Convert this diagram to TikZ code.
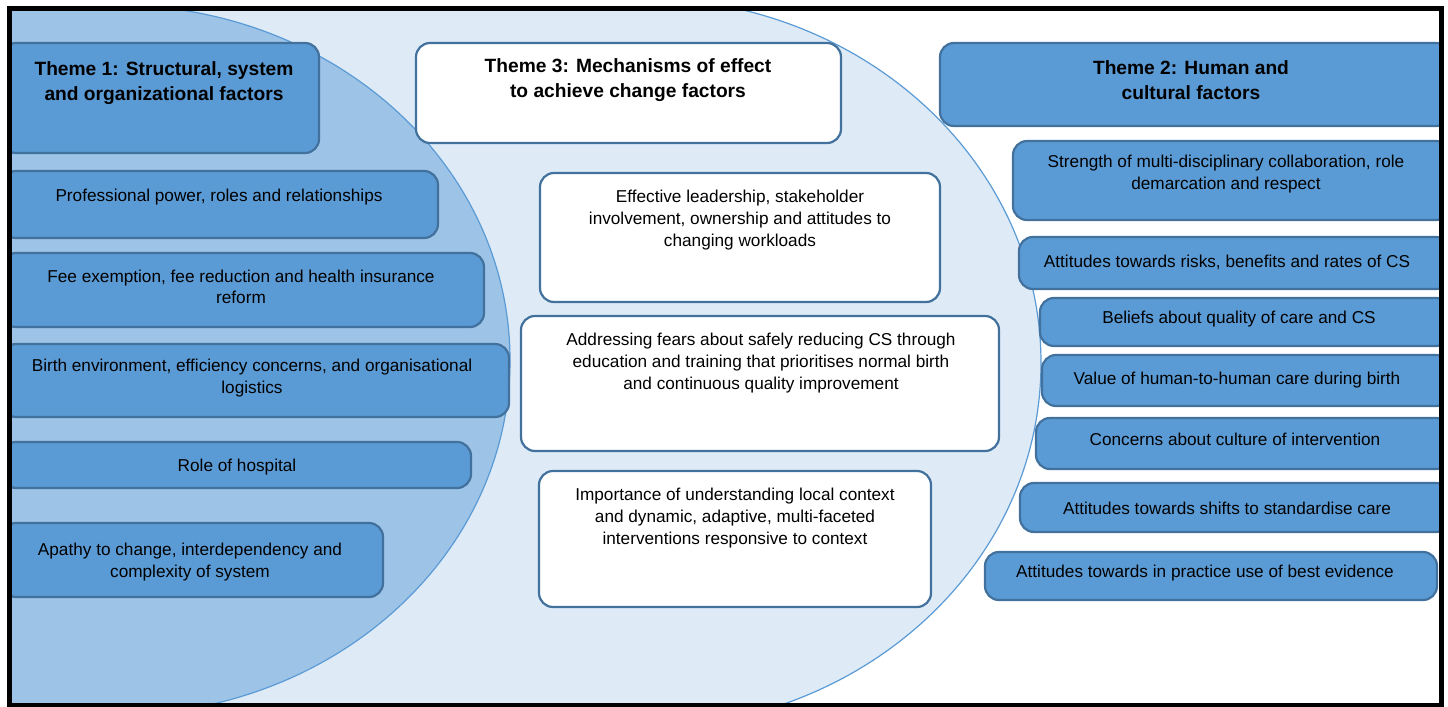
\documentclass[tikz,border=0pt]{standalone}
\usepackage{fontspec}
\setmainfont{Liberation Sans}
\usepackage{xcolor}
\definecolor{boxblue}{HTML}{5B9BD5}
\definecolor{boxedge}{HTML}{41719C}
\definecolor{setinner}{HTML}{9DC3E6}
\definecolor{setouter}{HTML}{DEEBF7}
\begin{document}
\begin{tikzpicture}[x=0.5pt, y=-0.5pt,
    bluebox/.style={draw=boxedge, line width=1.1pt, fill=boxblue, rounded corners=7pt},
    whitebox/.style={draw=boxedge, line width=1.1pt, fill=white, rounded corners=7pt},
    setline/.style={draw=boxblue, line width=0.6pt},
    txt/.style={align=center, inner sep=0pt, font=\fontsize{8.6}{10.8}\selectfont},
    head/.style={align=center, inner sep=0pt, font=\fontsize{9.6}{12.5}\selectfont\bfseries}]
    \useasboundingbox (0,0) rectangle (1448,707);

    \begin{scope}
    \clip (9,8) rectangle (1442,706);

    % Outer set (theme 3)
    \draw[setline, fill=setouter] (641,-2) arc[start angle=90, end angle=-90, x radius=200pt, y radius=182.5pt] -- (-30,728) -- (-30,-2) -- cycle;
    % Inner set (theme 1)
    \draw[setline, fill=setinner] (115,5) arc[start angle=90, end angle=-90, x radius=197.5pt, y radius=177.5pt] -- (-30,715) -- (-30,5) -- cycle;

    % Theme 1 boxes
    \draw[bluebox] (2,43) rectangle (319,153);
    \node[head] (theme1) at (164,83) {Theme 1: Structural, system\\and organizational factors};
    \draw[bluebox] (2,171) rectangle (438,238);
    \node[txt] (power) at (219,197) {Professional power, roles and relationships};
    \draw[bluebox] (2,253) rectangle (484,327);
    \node[txt] (fee) at (241,287) {Fee exemption, fee reduction and health insurance\\reform};
    \draw[bluebox] (2,344) rectangle (509,417);
    \node[txt] (birth) at (252,378) {Birth environment, efficiency concerns, and organisational\\logistics};
    \draw[bluebox] (2,442) rectangle (471,488);
    \node[txt] (hospital) at (237,467) {Role of hospital};
    \draw[bluebox] (2,523) rectangle (383,597);
    \node[txt] (apathy) at (190,562) {Apathy to change, interdependency and\\complexity of system};

    % Theme 3 boxes
    \draw[whitebox] (416,43) rectangle (841,143);
    \node[head] (theme3) at (628,80) {Theme 3: Mechanisms of effect\\to achieve change factors};
    \draw[whitebox] (540,173) rectangle (940,302);
    \node[txt] (leader) at (740,220) {Effective leadership, stakeholder\\involvement, ownership and attitudes to\\changing workloads};
    \draw[whitebox] (521,316) rectangle (999,451);
    \node[txt] (fears) at (761,363) {Addressing fears about safely reducing CS through\\education and training that prioritises normal birth\\and continuous quality improvement};
    \draw[whitebox] (539,471) rectangle (931,607);
    \node[txt] (context) at (735,518) {Importance of understanding local context\\and dynamic, adaptive, multi-faceted\\interventions responsive to context};

    % Theme 2 boxes
    \draw[bluebox] (940,43) rectangle (1450,126);
    \node[head] (theme2) at (1191,80) {Theme 2: Human and\\cultural factors};
    \draw[bluebox] (1013,141) rectangle (1450,220);
    \node[txt] (collab) at (1226,174) {Strength of multi-disciplinary collaboration, role\\demarcation and respect};
    \draw[bluebox] (1019,237) rectangle (1450,289);
    \node[txt] (risks) at (1227,262) {Attitudes towards risks, benefits and rates of CS};
    \draw[bluebox] (1040,298) rectangle (1450,346);
    \node[txt] (beliefs) at (1239,319) {Beliefs about quality of care and CS};
    \draw[bluebox] (1042,355) rectangle (1450,406);
    \node[txt] (human) at (1237,380) {Value of human-to-human care during birth};
    \draw[bluebox] (1036,418) rectangle (1450,469);
    \node[txt] (culture) at (1235,439) {Concerns about culture of intervention};
    \draw[bluebox] (1020,483) rectangle (1450,532);
    \node[txt] (shifts) at (1227,508) {Attitudes towards shifts to standardise care};
    \draw[bluebox] (985,552) rectangle (1437,600);
    \node[txt] (evidence) at (1205,573) {Attitudes towards in practice use of best evidence};
    \end{scope}

    % Frame
    \draw[line width=2.8pt] (9.5,8.5) rectangle (1441.5,706);
\end{tikzpicture}
\end{document}
